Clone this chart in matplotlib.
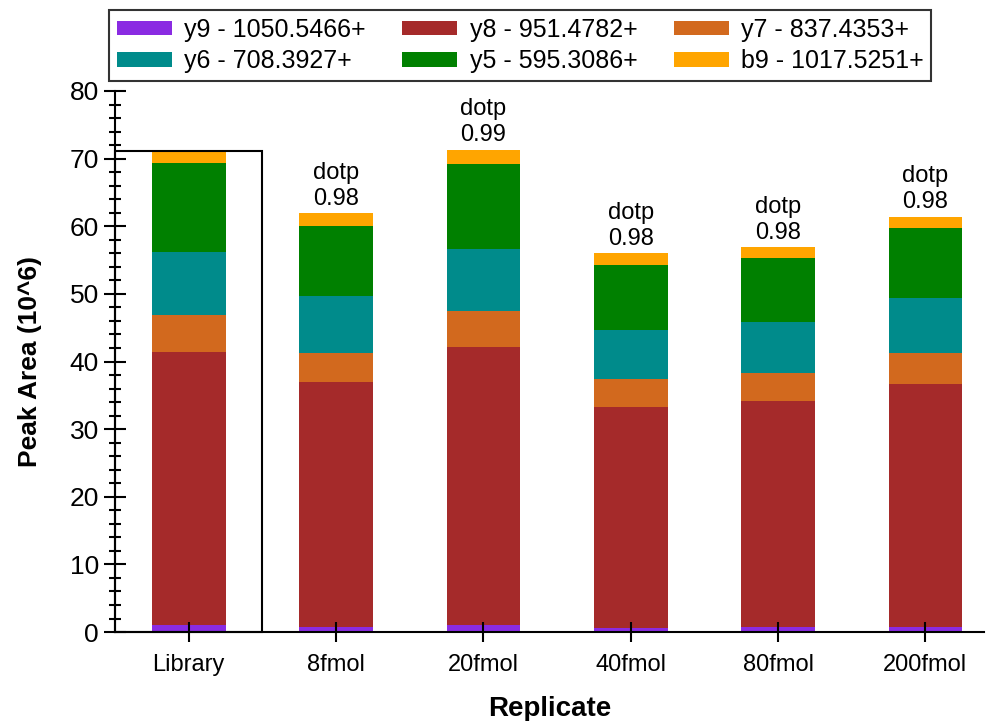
import matplotlib
matplotlib.use("Agg")
import matplotlib.pyplot as plt
from matplotlib.patches import Rectangle
from matplotlib.ticker import MultipleLocator
import numpy as np

plt.rcParams['font.family'] = ['Liberation Sans', 'DejaVu Sans']

categories = ["Library", "8fmol", "20fmol", "40fmol", "80fmol", "200fmol"]
series_names = ["y9 - 1050.5466+", "y8 - 951.4782+", "y7 - 837.4353+",
                "y6 - 708.3927+", "y5 - 595.3086+", "b9 - 1017.5251+"]
colors = ["#8A2BE2", "#A52A2A", "#D2691E", "#008B8B", "#008000", "#FFA500"]

y9 = [1.0, 0.75, 1.0, 0.6, 0.75, 0.75]
y8 = [40.45, 36.15, 41.2, 32.6, 33.45, 35.95]
y7 = [5.5, 4.3, 5.2, 4.2, 4.1, 4.6]
y6 = [9.2, 8.5, 9.2, 7.3, 7.5, 8.1]
y5 = [13.2, 10.3, 12.6, 9.6, 9.5, 10.3]
b9 = [1.8, 1.9, 2.1, 1.7, 1.6, 1.7]
dotp = [None, "0.98", "0.99", "0.98", "0.98", "0.98"]

series = [y9, y8, y7, y6, y5, b9]

fig = plt.figure(figsize=(9.89, 7.21), dpi=100)
ax = fig.add_axes([0.1163, 0.1234, 0.879, 0.7504])

x = np.arange(len(categories))
bottom = np.zeros(len(categories))
handles = []
for vals, col, name in zip(series, colors, series_names):
    h = ax.bar(x, vals, width=0.5, bottom=bottom, color=col, label=name, linewidth=0)
    handles.append(h)
    bottom = bottom + np.array(vals)

totals = bottom
for xi, t, d in zip(x, totals, dotp):
    if d is not None:
        ax.text(xi, t + 0.5, "dotp\n" + d, ha='center', va='bottom', fontsize=17,
                linespacing=1.25)

# Library highlight box
ax.add_patch(Rectangle((-0.5, 0), 1.0, totals[0], fill=False, edgecolor='black',
                       linewidth=1.5, zorder=3, clip_on=False))

ax.set_xlim(-0.5, 5.4)
ax.set_ylim(0, 80)
ax.set_xticks(x)
ax.set_xticklabels(categories, fontsize=17)
ax.yaxis.set_major_locator(MultipleLocator(10))
ax.yaxis.set_minor_locator(MultipleLocator(2))
ax.tick_params(axis='y', which='major', direction='inout', length=16, width=1.5, labelsize=19)
ax.tick_params(axis='y', which='minor', direction='inout', length=9, width=1.5)
ax.tick_params(axis='x', which='major', direction='inout', length=15, width=1.5, pad=8)

for s in ['top', 'right']:
    ax.spines[s].set_visible(False)
for s in ['left', 'bottom']:
    ax.spines[s].set_linewidth(1.5)

ax.set_xlabel("Replicate", fontsize=20, fontweight='bold', labelpad=15)
ax.set_ylabel("Peak Area (10^6)", fontsize=19, fontweight='bold', labelpad=20)

order = [0, 3, 1, 4, 2, 5]
leg = fig.legend([handles[i] for i in order], [series_names[i] for i in order],
                 loc='upper center', bbox_to_anchor=(0.526, 1.003), ncol=3,
                 fontsize=18, frameon=True, fancybox=False, edgecolor='black',
                 handlelength=2.2, handleheight=0.5, handletextpad=0.5,
                 columnspacing=1.45, labelspacing=0.3, borderpad=0.3)
leg.get_frame().set_linewidth(1.5)

fig.savefig("out.png", dpi=100)
